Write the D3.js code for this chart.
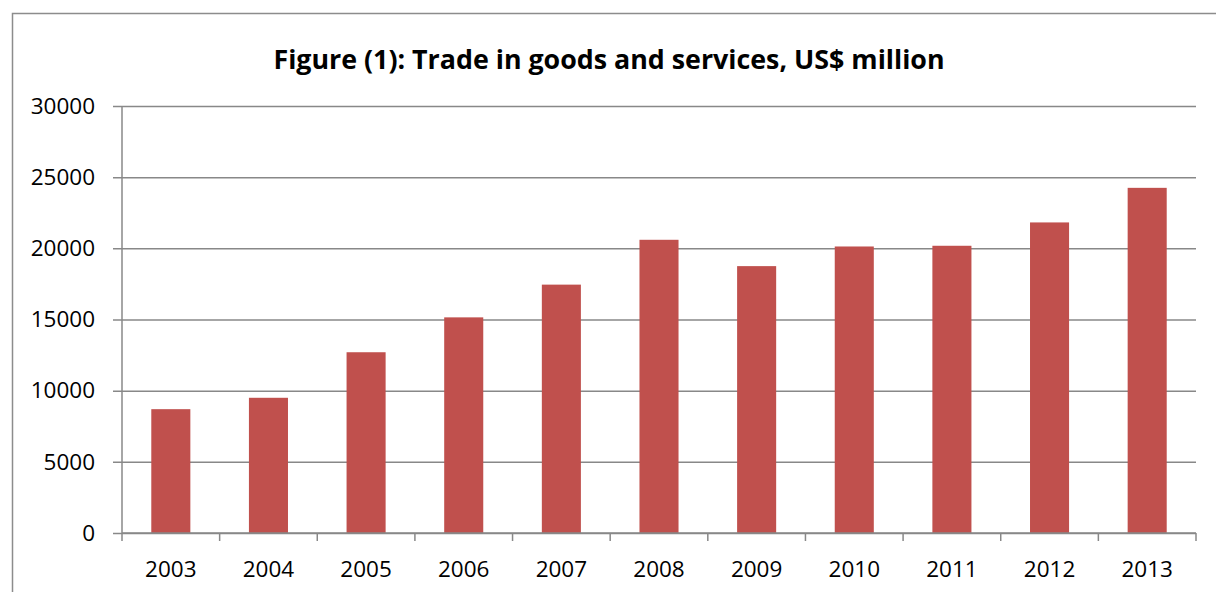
<!DOCTYPE html>
<html>
<head>
<meta charset="utf-8">
<script src="https://cdn.jsdelivr.net/npm/d3@7"></script>
<style>
  html, body { margin: 0; padding: 0; background: #fff; }
  svg { display: block; }
</style>
</head>
<body>
<svg id="chart" width="1216" height="592"></svg>
<script>
// Trade in goods and services, US$ million
const years = ["2003", "2004", "2005", "2006", "2007", "2008", "2009", "2010", "2011", "2012", "2013"];
const tradeValues = [8700, 9500, 12700, 15150, 17450, 20600, 18750, 20130, 20180, 21820, 24250];
const yTicks = [0, 5000, 10000, 15000, 20000, 25000, 30000];
const titleText = "Figure (1): Trade in goods and services, US$ million";

const svg = d3.select("#chart");
const W = 1216, H = 592;
const plot = { left: 122, right: 1196, top: 106, bottom: 533 };
const gridColor = "#888888";
const barColor = "#C0504D";
const font = "'Open Sans', 'Liberation Sans', sans-serif";

// chart frame
svg.append("path")
  .attr("d", `M12.5,${H} V13.5 H${W}`)
  .attr("fill", "none")
  .attr("stroke", "#8c8c8c")
  .attr("stroke-width", 1.5);

const x = d3.scaleBand()
  .domain(years)
  .range([plot.left, plot.right])
  .paddingInner(0.6)
  .paddingOuter(0.3);

const y = d3.scaleLinear()
  .domain([0, 30000])
  .range([plot.bottom, plot.top]);

// horizontal gridlines with left tick marks
const yAxis = d3.axisLeft(y)
  .tickValues(yTicks)
  .tickSize(-(plot.right - plot.left))
  .tickPadding(14)
  .tickFormat(d3.format("d"));

const gy = svg.append("g")
  .attr("transform", `translate(${plot.left},0)`)
  .call(yAxis);
gy.select(".domain").remove();
gy.selectAll(".tick line")
  .attr("x1", -9)
  .attr("stroke", gridColor)
  .attr("stroke-width", 1.5);
gy.selectAll(".tick text")
  .attr("x", -27)
  .attr("font-family", font)
  .attr("font-size", 22.5)
  .attr("fill", "#000");

// vertical axis line
svg.append("line")
  .attr("x1", plot.left).attr("x2", plot.left)
  .attr("y1", plot.top).attr("y2", plot.bottom)
  .attr("stroke", gridColor)
  .attr("stroke-width", 1.5);

// bars
svg.append("g")
  .selectAll("rect")
  .data(years.map((yr, i) => ({ yr, v: tradeValues[i] })))
  .join("rect")
  .attr("x", d => x(d.yr))
  .attr("y", d => y(d.v))
  .attr("width", x.bandwidth())
  .attr("height", d => y(0) - y(d.v))
  .attr("fill", barColor);

// category axis: boundary ticks between years
const step = (plot.right - plot.left) / years.length;
const boundaries = d3.range(years.length + 1).map(i => plot.left + i * step);
const gx = svg.append("g");
gx.append("line")
  .attr("x1", plot.left).attr("x2", plot.right)
  .attr("y1", plot.bottom).attr("y2", plot.bottom)
  .attr("stroke", gridColor)
  .attr("stroke-width", 1.5);
gx.selectAll("line.bt")
  .data(boundaries)
  .join("line")
  .attr("class", "bt")
  .attr("x1", d => d).attr("x2", d => d)
  .attr("y1", plot.bottom).attr("y2", plot.bottom + 8)
  .attr("stroke", gridColor)
  .attr("stroke-width", 1.5);
gx.selectAll("text")
  .data(years)
  .join("text")
  .attr("x", d => x(d) + x.bandwidth() / 2)
  .attr("y", 577)
  .attr("text-anchor", "middle")
  .attr("font-family", font)
  .attr("font-size", 22.5)
  .attr("fill", "#000")
  .text(d => d);

// title
svg.append("text")
  .attr("x", 609)
  .attr("y", 69)
  .attr("text-anchor", "middle")
  .attr("font-family", font)
  .attr("font-weight", "bold")
  .attr("font-size", 26.8)
  .attr("fill", "#000")
  .text(titleText);
</script>
</body>
</html>
